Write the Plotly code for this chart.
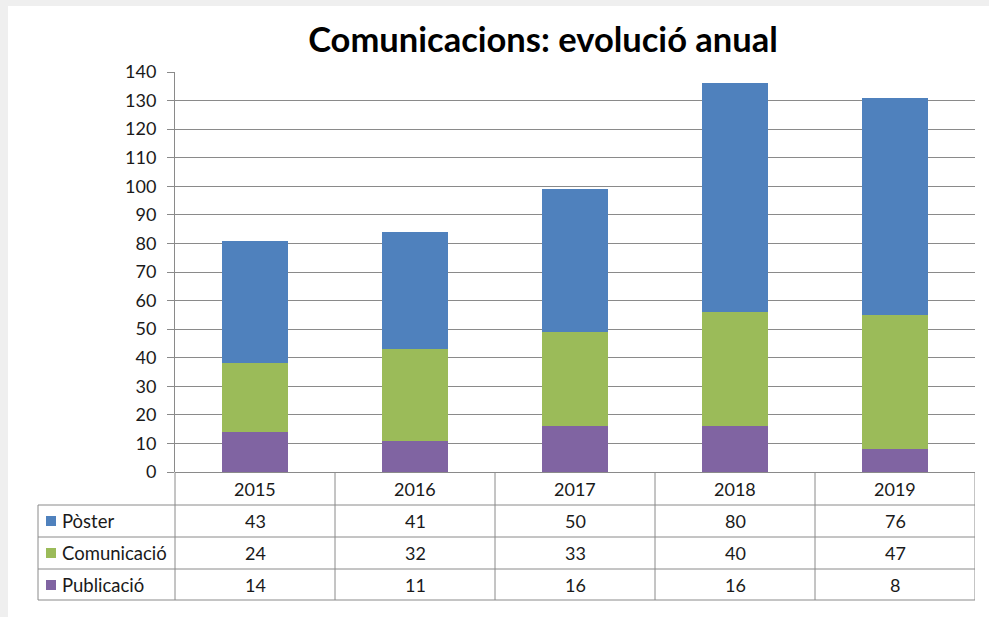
import plotly.graph_objects as go

years = ["2015", "2016", "2017", "2018", "2019"]
poster = [43, 41, 50, 80, 76]
comunicacio = [24, 32, 33, 40, 47]
publicacio = [14, 11, 16, 16, 8]
series_names = ["Pòster", "Comunicació", "Publicació"]
series_values = [poster, comunicacio, publicacio]
colors = ["#4F81BD", "#9BBB59", "#8064A2"]
y_ticks = list(range(0, 141, 10))

W, H = 989, 617
L, R, T, B = 175, 975, 72, 472  # plot area in pixels

def px(x):
    return (x - L) / (R - L)

def py(y):
    return (B - y) / (B - T)

FONT = "Lato"
TXT = "#1a1a1a"
GRID = "#8a8a8a"

fig = go.Figure()
# stacked bars, bottom series first
for name, vals, col in reversed(list(zip(series_names, series_values, colors))):
    fig.add_trace(go.Bar(x=years, y=vals, name=name, marker=dict(color=col, line=dict(width=0)),
                         width=0.41, showlegend=False))

shapes = []
# white card over light gray frame
shapes.append(dict(type="rect", xref="paper", yref="paper", x0=px(8), x1=px(1000), y0=py(640), y1=py(6),
                   fillcolor="white", line=dict(width=0), layer="below"))

# table lines
row_lines = [505, 537, 569, 600]
for yy in row_lines:
    shapes.append(dict(type="line", xref="paper", yref="paper", x0=px(38), x1=px(975), y0=py(yy), y1=py(yy),
                       line=dict(color=GRID, width=1)))
shapes.append(dict(type="line", xref="paper", yref="paper", x0=px(38), x1=px(38), y0=py(505), y1=py(600),
                   line=dict(color=GRID, width=1)))
shapes.append(dict(type="line", xref="paper", yref="paper", x0=0, x1=0, y0=py(472), y1=py(600),
                   line=dict(color=GRID, width=1)))
for i in range(len(years)):
    shapes.append(dict(type="line", xref="x", yref="paper", x0=i + 0.5, x1=i + 0.5, y0=py(472), y1=py(600),
                       line=dict(color=GRID, width=1)))

annotations = []
row_centers = [521, 553, 585]
for name, vals, col, yc in zip(series_names, series_values, colors, row_centers):
    shapes.append(dict(type="rect", xref="paper", yref="paper", x0=px(46), x1=px(56), y0=py(yc + 5), y1=py(yc - 5),
                       fillcolor=col, line=dict(width=0)))
    annotations.append(dict(xref="paper", yref="paper", x=px(60), y=py(yc), text=name, showarrow=False,
                            xanchor="left", yanchor="middle", font=dict(family=FONT, size=18.5, color=TXT)))
    for i, v in enumerate(vals):
        annotations.append(dict(xref="x", yref="paper", x=i, y=py(yc), text=str(v), showarrow=False,
                                xanchor="center", yanchor="middle", font=dict(family=FONT, size=18, color=TXT)))
for i, yr in enumerate(years):
    annotations.append(dict(xref="x", yref="paper", x=i, y=py(489), text=yr, showarrow=False,
                            xanchor="center", yanchor="middle", font=dict(family=FONT, size=18, color=TXT)))

fig.update_layout(
    width=W, height=H,
    margin=dict(l=L, r=W - R, t=T, b=H - B, pad=0),
    paper_bgcolor="#efefef",
    plot_bgcolor="rgba(0,0,0,0)",
    barmode="stack",
    title=dict(text="<b>Comunicacions: evolució anual</b>", xref="container", x=543 / W, xanchor="center",
               yref="container", y=1 - 40 / H, yanchor="middle",
               font=dict(family=FONT, size=34.5, color="#000000")),
    xaxis=dict(type="category", range=[-0.5, 4.5], showticklabels=False, ticks="", showgrid=False,
               zeroline=False, showline=False, fixedrange=True),
    yaxis=dict(range=[0, 140], tickvals=y_ticks, ticks="outside", ticklen=7, tickcolor=GRID,
               showgrid=True, gridcolor=GRID, gridwidth=1, showline=True, linecolor=GRID, linewidth=1,
               zeroline=True, zerolinecolor=GRID, zerolinewidth=1,
               tickfont=dict(family=FONT, size=18, color=TXT), ticklabelstandoff=7),
    shapes=shapes,
    annotations=annotations,
    bargap=0.59,
)

fig.write_html("out.html", config={"displayModeBar": False},
               post_script="document.body.style.margin='0px';")
